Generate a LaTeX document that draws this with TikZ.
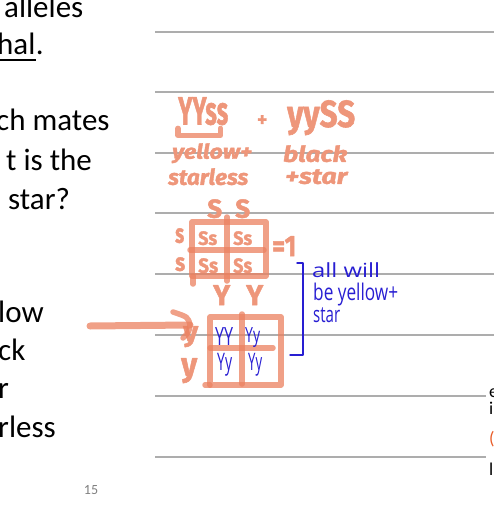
\documentclass[tikz,border=0pt]{standalone}
\usepackage{fontspec}
\setmainfont{Carlito}
\newfontfamily\markerfont[FakeBold=1.6]{Fira Sans}
\newfontfamily\penfont{Open Sans}
\usepackage{graphicx}
\usepackage{tikz}
\usetikzlibrary{calc}
\definecolor{marker}{RGB}{235,128,95}
\definecolor{markertext}{RGB}{238,150,122}
\definecolor{ink}{RGB}{40,30,210}
\definecolor{rulegray}{gray}{0.68}
\definecolor{slideorange}{RGB}{232,92,40}
\newcommand{\fit}[3]{\resizebox*{#1}{#2}{#3}}

\begin{document}
\begin{tikzpicture}[x=1pt,y=-1pt,line cap=round,line join=round]
  \tikzstyle{slide}=[anchor=base west,inner sep=0pt,font=\fontsize{31}{38}\selectfont]
  \tikzstyle{edge}=[anchor=base west,inner sep=0pt,font=\fontsize{18}{20}\selectfont]
  \tikzstyle{rule}=[draw=rulegray,line width=1.5pt,line cap=butt]
  \tikzstyle{hand}=[anchor=north west,inner sep=0pt,text=markertext,
                    font=\markerfont\bfseries]
  \tikzstyle{handit}=[hand,font=\markerfont\bfseries\itshape]
  \tikzstyle{pen}=[anchor=north west,inner sep=0pt,text=ink,font=\penfont]
  \tikzstyle{stroke}=[draw=marker,line width=5.5pt,opacity=0.75]
  \tikzstyle{inkline}=[draw=ink,line width=1.4pt]

  \useasboundingbox (0,0) rectangle (494,508);

  % ruled lines
  \foreach \y in {32,92,153,213,274,335}
    \draw[rule] (155,\y) -- (494,\y);
  \foreach \y in {396,457}
    \draw[rule] (155,\y) -- (486,\y);

  % slide text
  \node[slide] (alleles) at (4,18) {alleles};
  \node[slide] (hal) at (-3,55) {hal};
  \node[slide] (haldot) at (hal.base east) {.};
  \draw[line width=1.8pt,line cap=butt] ($(hal.base west)+(2,5)$) -- ($(hal.base east)+(0,5)$);
  \node[slide] (mates) at (-4,131) {ch mates};
  \node[slide] (isthe) at (6,170) {t is the};
  \node[slide] (star) at (8,209) {star?};
  \node[slide] (low) at (-2,322) {low};
  \node[slide] (ck) at (-2,360) {ck};
  \node[slide] (r) at (-2,398) {r};
  \node[slide] (rless) at (-2,437) {rless};
  \node[font=\fontsize{14}{16}\selectfont,text=gray] (page) at (91,490) {15};

  \node[edge] (e1) at (489,397) {e};
  \node[edge] (e2) at (489,414) {i};
  \node[edge,text=slideorange] (e3) at (489,444) {(};
  \node[edge] (e4) at (489,475) {l};

  % parents
  \node[hand] (p1) at (178,97) {\fit{50pt}{28pt}{YYss}};
  \node[hand] (cross) at (257,115) {\fit{10pt}{11pt}{+}};
  \node[hand] (p2) at (287,100) {\fit{68pt}{35pt}{yySS}};
  \draw[stroke] ($(p1.south west)+(0,3)$) |- ($(p1.south east)+(-8,10)$) -- ++(0,-7);
  \node[handit] (yel) at (172,143) {\fit{80pt}{20pt}{yellow+}};
  \node[handit] (blk) at (283,145) {\fit{64pt}{17pt}{black}};
  \node[handit] (sl) at (168,168) {\fit{80pt}{17pt}{starless}};
  \node[handit] (st) at (285,169) {\fit{62pt}{15pt}{+star}};

  % first square
  \node[hand] (g1) at (207,199) {\fit{15pt}{19pt}{S}};
  \node[hand] (g2) at (235,199) {\fit{15pt}{19pt}{S}};
  \node[hand] (r1) at (175,228) {\fit{9pt}{15pt}{s}};
  \node[hand] (r2) at (175,257) {\fit{10pt}{14pt}{s}};
  \node[hand] (c11) at (198,231) {\fit{19pt}{14pt}{Ss}};
  \node[hand] (c12) at (233,231) {\fit{19pt}{14pt}{Ss}};
  \node[hand] (c21) at (198,258) {\fit{20pt}{15pt}{Ss}};
  \node[hand] (c22) at (233,258) {\fit{19pt}{15pt}{Ss}};
  \node[hand] (one) at (272,236) {\fit{24pt}{20pt}{=1}};
  \draw[stroke] (192,222) rectangle (266,276);
  \draw[stroke] (190,250) -- (264,250);
  \draw[stroke] (227,217) -- (227,281);
  \draw[stroke] (193,276) -- (193,284);

  % second square
  \node[hand] (h1) at (213,285) {\fit{17pt}{20pt}{Y}};
  \node[hand] (h2) at (246,285) {\fit{17pt}{20pt}{Y}};
  \node[hand] (v1) at (183,326) {\fit{15pt}{21pt}{y}};
  \node[hand] (v2) at (181,358) {\fit{16pt}{25pt}{y}};
  \draw[stroke] (210,317) rectangle (281,385);
  \draw[stroke] (242,314) -- (242,384);
  \draw[stroke] (210,348) -- (273,348);
  \draw[stroke] (205,385) -- (210,385);

  % arrow
  \coordinate (tail) at (90,326);
  \coordinate (tip) at (190,325);
  \draw[stroke,line width=7pt] (tail) -- (tip);
  \draw[stroke] ($(tip)+(-17,-13)$) .. controls ($(tip)+(-2,-8)$) .. (tip)
                .. controls ($(tip)+(-1,7)$) .. ($(tip)+(-7,13)$);

  % blue notes
  \node[pen] (k11) at (215,327) {\fit{18pt}{18pt}{YY}};
  \node[pen] (k12) at (245,327) {\fit{15pt}{20pt}{Yy}};
  \node[pen] (k21) at (217,353) {\fit{15pt}{23pt}{Yy}};
  \node[pen] (k22) at (248,353) {\fit{14pt}{23pt}{Yy}};
  \coordinate (bt) at (297,263);
  \coordinate (bb) at (290,355);
  \draw[inkline] (bt) -- ++(6,0) |- (bb);
  \node[pen] (b1) at (312,262) {\fit{68pt}{15pt}{all will}};
  \node[pen] (b2) at (313,283) {\fit{85pt}{23pt}{be yellow+}};
  \node[pen] (b3) at (313,308) {\fit{27pt}{15pt}{star}};
\end{tikzpicture}
\end{document}
